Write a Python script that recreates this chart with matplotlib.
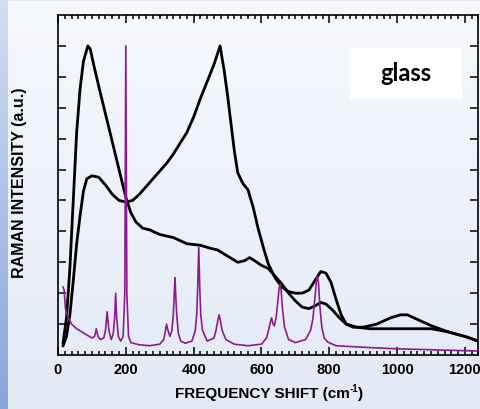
import numpy as np
import matplotlib
matplotlib.use('Agg')
import matplotlib.pyplot as plt
from matplotlib.ticker import MultipleLocator
from matplotlib.patches import Rectangle

# broad glass spectrum, boson-peak-like maximum near 90 cm-1
xA = [15, 25, 35, 45, 55, 65, 75, 88, 95, 105, 120, 140, 160, 180, 200, 215, 230,
      250, 270, 300, 340, 380, 420, 450, 470, 500, 530, 550, 565, 580, 600, 620,
      640, 660, 680, 700, 720, 740, 760, 775, 790, 810, 830, 850, 880, 920, 960,
      1000, 1050, 1100, 1150, 1200, 1240]
yA = [0.4, 1.2, 2.8, 5.0, 7.2, 8.6, 9.5, 10.0, 9.9, 9.4, 8.7, 7.8, 6.9, 6.0, 5.1,
      4.6, 4.3, 4.1, 4.05, 3.9, 3.8, 3.6, 3.55, 3.45, 3.4, 3.2, 3.0, 3.05, 3.15,
      3.05, 2.9, 2.8, 2.55, 2.3, 2.0, 1.75, 1.55, 1.5, 1.6, 1.7, 1.65, 1.45, 1.2,
      1.0, 0.9, 0.85, 0.85, 0.85, 0.85, 0.85, 0.75, 0.6, 0.45]

# glass spectrum with the main band near 480 cm-1
xB = [15, 25, 35, 45, 55, 65, 75, 85, 100, 120, 140, 160, 180, 200, 220, 240, 260,
      280, 300, 320, 340, 360, 380, 400, 420, 440, 460, 478, 490, 500, 510, 520,
      530, 545, 560, 575, 590, 605, 620, 640, 660, 680, 700, 720, 740, 760, 775,
      790, 805, 820, 835, 850, 870, 900, 940, 980, 1010, 1030, 1060, 1100, 1150,
      1200, 1240]
yB = [0.3, 0.6, 1.3, 2.4, 3.6, 4.5, 5.3, 5.7, 5.8, 5.75, 5.5, 5.2, 5.0, 4.95, 5.0,
      5.2, 5.45, 5.7, 5.95, 6.2, 6.5, 6.85, 7.2, 7.7, 8.3, 8.85, 9.4, 10.0, 9.2,
      8.4, 7.5, 6.6, 5.9, 5.55, 5.35, 4.8, 4.1, 3.5, 2.95, 2.5, 2.2, 2.05, 2.0,
      2.0, 2.1, 2.45, 2.7, 2.65, 2.35, 1.8, 1.3, 1.0, 0.9, 0.9, 1.0, 1.2, 1.3,
      1.3, 1.15, 0.95, 0.75, 0.6, 0.45]

# crystal reference (purple)
xC = [15, 18, 22, 30, 40, 55, 70, 85, 100, 108, 113, 118, 125, 135, 140, 145, 150,
      157, 163, 167, 170, 173, 178, 185, 192, 197, 200, 203, 208, 215, 240, 270,
      300, 312, 317, 320, 324, 330, 336, 340, 343, 345, 347, 350, 355, 362, 375,
      395, 405, 409, 412, 415, 418, 421, 426, 440, 460, 466, 471, 475, 479, 484,
      495, 520, 560, 600, 615, 622, 627, 630, 634, 638, 643, 648, 652, 655, 658,
      662, 668, 680, 700, 730, 745, 752, 758, 762, 765, 768, 772, 778, 785, 795,
      820, 900, 1000, 1100, 1200, 1240]
yC = [2.2, 2.1, 1.5, 1.2, 1.0, 0.85, 0.75, 0.65, 0.55, 0.6, 0.85, 0.6, 0.5, 0.55,
      0.8, 1.4, 0.8, 0.5, 0.7, 1.2, 2.0, 1.2, 0.6, 0.45, 0.6, 2.0, 10.0, 2.0, 0.6,
      0.4, 0.33, 0.3, 0.35, 0.5, 0.8, 1.0, 0.8, 0.6, 0.8, 1.3, 2.0, 2.5, 2.0, 1.3,
      0.7, 0.45, 0.38, 0.45, 0.8, 1.3, 2.2, 3.5, 2.2, 1.3, 0.8, 0.45, 0.55, 0.8,
      1.1, 1.3, 1.1, 0.8, 0.5, 0.35, 0.3, 0.35, 0.55, 0.85, 1.1, 1.2, 1.0, 0.95,
      1.2, 1.7, 2.15, 2.3, 2.1, 1.5, 0.9, 0.5, 0.4, 0.5, 0.8, 1.2, 1.9, 2.4, 2.55,
      2.35, 1.6, 0.9, 0.55, 0.42, 0.3, 0.25, 0.2, 0.17, 0.14, 0.13]

xticks = [0, 200, 400, 600, 800, 1000, 1200]
yticks = [1, 2, 3, 4, 5, 6, 7, 8, 9, 10]

plt.rcParams['font.family'] = ['Liberation Sans Narrow', 'Liberation Sans', 'DejaVu Sans']

fig = plt.figure(figsize=(4.81, 4.10), dpi=100)

# slide-like background gradient
bg = fig.add_axes([0, 0, 1, 1], zorder=-5)
bg.axis('off')
H, W = 410, 481
t = np.linspace(0, 1, H)[:, None, None]
top = np.array([0.965, 0.973, 0.993])
bot = np.array([0.890, 0.918, 0.965])
img = top + (bot - top) * t
img = np.repeat(img, W, axis=1)
s_top = np.array([0.82, 0.87, 0.95])
s_bot = np.array([0.53, 0.65, 0.86])
strip = s_top + (s_bot - s_top) * np.linspace(0, 1, H)[:, None]
img[:, :8, :] = strip[:, None, :]
img[:2, 8:, :] = np.array([0.90, 0.92, 0.96])
bg.imshow(img, aspect='auto', extent=[0, 1, 0, 1])
bg.set_xlim(0, 1)
bg.set_ylim(0, 1)

ax = fig.add_axes([58 / 481, 54 / 410, 420.5 / 481, 340 / 410])
ax.patch.set_alpha(0)
ax.plot(xA, yA, color='black', lw=2.0, zorder=3)
ax.plot(xB, yB, color='black', lw=2.0, zorder=3)
ax.plot(xC, yC, color='#8e1b8e', lw=1.2, zorder=4)

ax.set_xlim(0, 1240)
ax.set_ylim(0, 11)
ax.set_xticks(xticks)
ax.xaxis.set_minor_locator(MultipleLocator(20))
ax.set_yticks(yticks)
ax.set_yticklabels([])
ax.tick_params(which='both', direction='in', top=True, right=True, width=1.1)
ax.tick_params(which='major', length=6)
ax.tick_params(which='minor', length=3)
ax.tick_params(axis='x', labelsize=10.5, pad=5)
for lab in ax.get_xticklabels():
    lab.set_fontweight('bold')
for sp in ax.spines.values():
    sp.set_linewidth(1.2)

ax.add_patch(Rectangle((0.694, 0.753), 0.267, 0.15, transform=ax.transAxes,
                       facecolor='white', edgecolor='none', zorder=2))
ax.text(0.8275, 0.83, 'glass', transform=ax.transAxes, ha='center', va='center',
        fontsize=17, fontweight='bold', family=['Lato', 'DejaVu Sans'], zorder=5)

# x label built from pieces so the superscript "-1" stays small
r = fig.canvas.get_renderer()
yl = 1 - 394 / 410
p1 = fig.text(0, yl, 'FREQUENCY SHIFT (cm', ha='left', va='center', fontsize=11, fontweight='bold')
p2 = fig.text(0, yl + 0.012, '-1', ha='left', va='center', fontsize=7, fontweight='bold')
p3 = fig.text(0, yl, ')', ha='left', va='center', fontsize=11, fontweight='bold')
w1 = p1.get_window_extent(r).width / 481
w2 = p2.get_window_extent(r).width / 481
w3 = p3.get_window_extent(r).width / 481
x0 = 269 / 481 - (w1 + w2 + w3) / 2
p1.set_x(x0)
p2.set_x(x0 + w1)
p3.set_x(x0 + w1 + w2)

fig.text(20 / 481, 1 - 183 / 410, 'RAMAN INTENSITY (a.u.)', rotation=90,
         ha='center', va='center', fontsize=11.5, fontweight='bold')

fig.savefig('out.png', dpi=100)
